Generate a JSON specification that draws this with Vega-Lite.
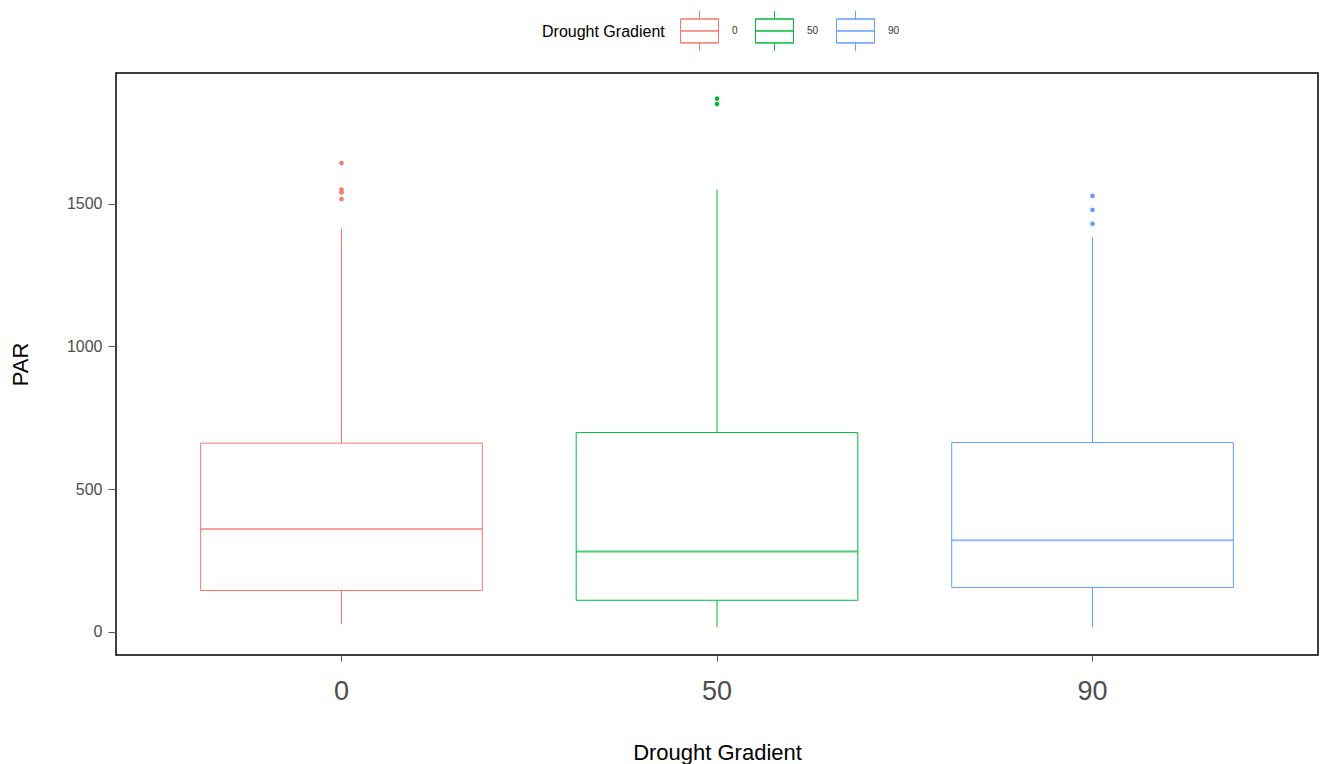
{
  "$schema": "https://vega.github.io/schema/vega-lite/v6.json",
  "width": 1202,
  "height": 582,
  "autosize": {"type": "none"},
  "padding": {"left": 116, "top": 73, "right": 7, "bottom": 109},
  "background": "white",
  "config": {
    "font": "Liberation Sans",
    "view": {"stroke": "black", "strokeWidth": 1.5},
    "axis": {"grid": false, "domain": false}
  },
  "datasets": {
    "boxes": [
      {"gradient": "0", "lower": 26, "q1": 144, "median": 360, "q3": 661, "upper": 1413},
      {"gradient": "50", "lower": 15, "q1": 110, "median": 281, "q3": 698, "upper": 1550},
      {"gradient": "90", "lower": 15, "q1": 155, "median": 320, "q3": 663, "upper": 1382}
    ],
    "outliers": [
      {"gradient": "0", "PAR": 1643},
      {"gradient": "0", "PAR": 1550},
      {"gradient": "0", "PAR": 1540},
      {"gradient": "0", "PAR": 1517},
      {"gradient": "50", "PAR": 1869},
      {"gradient": "50", "PAR": 1850},
      {"gradient": "90", "PAR": 1528},
      {"gradient": "90", "PAR": 1479},
      {"gradient": "90", "PAR": 1430}
    ]
  },
  "encoding": {
    "x": {
      "field": "gradient",
      "type": "nominal",
      "sort": ["0", "50", "90"],
      "scale": {"type": "band", "paddingInner": 0.25, "paddingOuter": 0.2255},
      "axis": {
        "title": "Drought Gradient",
        "labelAngle": 0,
        "labelFontSize": 27,
        "labelColor": "#4d4d4d",
        "labelPadding": 17,
        "tickSize": 6,
        "tickColor": "#555555",
        "titleFontSize": 22,
        "titleFontWeight": "normal",
        "titleColor": "black",
        "titlePadding": 38
      }
    }
  },
  "layer": [
    {
      "data": {"name": "boxes"},
      "mark": {"type": "bar", "fill": "transparent", "strokeWidth": 1},
      "encoding": {
        "y": {
          "field": "q1",
          "type": "quantitative",
          "scale": {"domain": [-82, 1959], "nice": false, "zero": false},
          "axis": {
            "title": "PAR",
            "values": [0, 500, 1000, 1500],
            "format": "d",
            "labelFontSize": 16,
            "labelColor": "#4d4d4d",
            "labelPadding": 6,
            "tickSize": 8,
            "tickColor": "#555555",
            "titleFontSize": 22,
            "titleFontWeight": "normal",
            "titleColor": "black",
            "titlePadding": 34
          }
        },
        "y2": {"field": "q3"},
        "stroke": {
          "field": "gradient",
          "type": "nominal",
          "scale": {"domain": ["0", "50", "90"], "range": ["#F8766D", "#00BA38", "#619CFF"]},
          "legend": {
            "title": "Drought Gradient",
            "orient": "none",
            "direction": "horizontal",
            "legendX": 426,
            "legendY": -62,
            "titleOrient": "left",
            "titleFontSize": 16,
            "titleFontWeight": "normal",
            "titleColor": "black",
            "titlePadding": 15,
            "titleBaseline": "middle",
            "titleAnchor": "middle",
            "symbolType": "M-1,-0.63H1H-1 M1,-0.63V0.63V-0.63 M-1,0.63H1H-1 M-1,-0.63V0.63V-0.63 M-1,0H1H-1 M0,-0.63V-1.03V-0.63 M0,0.63V1.03V0.63",
            "symbolSize": 1444,
            "symbolStrokeWidth": 1,
            "labelFontSize": 10,
            "labelColor": "#333333",
            "labelOffset": 13,
            "columnPadding": 15,
            "encode": {
              "symbols": {
                "fill": {"value": "transparent"},
                "fillOpacity": {"value": 0}
              }
            }
          }
        }
      }
    },
    {
      "data": {"name": "boxes"},
      "mark": {"type": "rule", "strokeWidth": 1},
      "encoding": {
        "y": {"field": "lower", "type": "quantitative"},
        "y2": {"field": "q1"},
        "stroke": {"field": "gradient", "type": "nominal"}
      }
    },
    {
      "data": {"name": "boxes"},
      "mark": {"type": "rule", "strokeWidth": 1},
      "encoding": {
        "y": {"field": "q3", "type": "quantitative"},
        "y2": {"field": "upper"},
        "stroke": {"field": "gradient", "type": "nominal"}
      }
    },
    {
      "data": {"name": "boxes"},
      "mark": {"type": "tick", "orient": "horizontal", "size": 282, "thickness": 2},
      "encoding": {
        "y": {"field": "median", "type": "quantitative"},
        "color": {
          "field": "gradient",
          "type": "nominal",
          "scale": {"domain": ["0", "50", "90"], "range": ["#F8766D", "#00BA38", "#619CFF"]},
          "legend": null
        }
      }
    },
    {
      "data": {"name": "outliers"},
      "mark": {"type": "point", "shape": "circle", "filled": true, "opacity": 1, "size": 22, "strokeWidth": 0},
      "encoding": {
        "y": {"field": "PAR", "type": "quantitative"},
        "color": {"field": "gradient", "type": "nominal", "legend": null}
      }
    }
  ]
}
